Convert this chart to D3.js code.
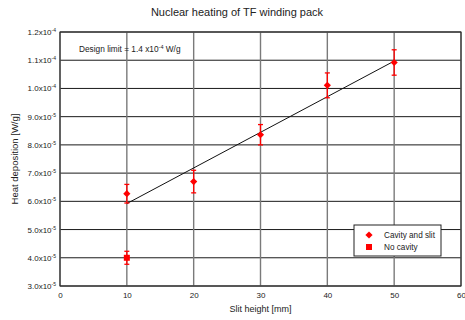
<!DOCTYPE html>
<html>
<head>
<meta charset="utf-8">
<script src="https://cdn.jsdelivr.net/npm/d3@7"></script>
<style>
  body { margin: 0; background: #fff; }
  text { font-family: "Liberation Sans", Arial, sans-serif; }
</style>
</head>
<body>
<svg width="465" height="320"></svg>
<script>
const xTicks = [0, 10, 20, 30, 40, 50, 60];
const yTicks = [3.0e-5, 4.0e-5, 5.0e-5, 6.0e-5, 7.0e-5, 8.0e-5, 9.0e-5, 1.0e-4, 1.1e-4, 1.2e-4];
const yTickMant = ['3.0', '4.0', '5.0', '6.0', '7.0', '8.0', '9.0', '1.0', '1.1', '1.2'];
const yTickExp = ['-5', '-5', '-5', '-5', '-5', '-5', '-5', '-4', '-4', '-4'];

// Cavity and slit
const slitX = [10, 20, 30, 40, 50];
const slitY = [6.27e-5, 6.70e-5, 8.36e-5, 1.011e-4, 1.092e-4];
const slitErr = [0.33e-5, 0.40e-5, 0.36e-5, 0.44e-5, 0.45e-5];

// No cavity
const noCavX = [10];
const noCavY = [4.0e-5];
const noCavErr = [0.23e-5];

// linear fit line
const fitX = [10, 50];
const fitY = [5.92e-5, 1.097e-4];

const margin = { top: 32, right: 4, bottom: 34, left: 60 };
const svgWidth = 465, svgHeight = 320;
const width = svgWidth - margin.left - margin.right;
const height = svgHeight - margin.top - margin.bottom;

const svg = d3.select('svg');
const g = svg.append('g')
    .attr('transform', `translate(${margin.left}, ${margin.top})`);

const x = d3.scaleLinear().domain([0, 60]).range([0, width]);
const y = d3.scaleLinear().domain([3.0e-5, 1.2e-4]).range([height, 0]);

// horizontal grid
g.selectAll('.hgrid')
    .data(yTicks)
    .enter().append('line')
    .attr('x1', 0).attr('x2', width)
    .attr('y1', d => y(d)).attr('y2', d => y(d))
    .attr('stroke', '#1a1a1a')
    .attr('stroke-width', 1);

// vertical grid
g.selectAll('.vgrid')
    .data(xTicks)
    .enter().append('line')
    .attr('x1', d => x(d)).attr('x2', d => x(d))
    .attr('y1', 0).attr('y2', height)
    .attr('stroke', '#7a7a7a')
    .attr('stroke-width', 1.4);

// frame
g.append('rect')
    .attr('width', width).attr('height', height)
    .attr('fill', 'none')
    .attr('stroke', '#222')
    .attr('stroke-width', 1);

// x axis labels
g.append('g')
    .attr('transform', `translate(0, ${height})`)
    .call(d3.axisBottom(x).tickValues(xTicks).tickSize(0).tickPadding(6).tickFormat(d3.format('d')))
    .call(a => a.select('.domain').remove())
    .call(a => a.selectAll('text').attr('font-size', '8px').attr('fill', '#222')
        .style('font-family', '"Liberation Sans", Arial, sans-serif'));

g.append('text')
    .attr('x', width / 2)
    .attr('y', height + 26)
    .attr('text-anchor', 'middle')
    .attr('font-size', '9px')
    .attr('fill', '#222')
    .text('Slit height [mm]');

// y tick labels with superscripts
const yl = g.selectAll('.ylab')
    .data(yTicks)
    .enter().append('text')
    .attr('x', -4)
    .attr('y', d => y(d) + 3)
    .attr('text-anchor', 'end')
    .attr('font-size', '8px')
    .attr('fill', '#222');
yl.append('tspan').text((d, i) => yTickMant[i] + 'x10');
yl.append('tspan').attr('dy', -3).attr('font-size', '5px').text((d, i) => yTickExp[i]);

g.append('text')
    .attr('transform', 'rotate(-90)')
    .attr('x', -height / 2)
    .attr('y', -42)
    .attr('text-anchor', 'middle')
    .attr('font-size', '9.5px')
    .attr('fill', '#222')
    .text('Heat deposition [W/g]');

// title
svg.append('text')
    .attr('x', 237)
    .attr('y', 16)
    .attr('text-anchor', 'middle')
    .attr('font-size', '11px')
    .attr('fill', '#222')
    .text('Nuclear heating of TF winding pack');

// design limit note
const dl = g.append('text')
    .attr('x', 19)
    .attr('y', 20)
    .attr('font-size', '8.3px')
    .attr('fill', '#222');
dl.append('tspan').text('Design limit = 1.4 x10');
dl.append('tspan').attr('dy', -3).attr('font-size', '5.5px').text('-4');
dl.append('tspan').attr('dy', 3).text(' W/g');

// fit line
const line = d3.line().x(d => x(d[0])).y(d => y(d[1]));
g.append('path')
    .datum(fitX.map((d, i) => [d, fitY[i]]))
    .attr('fill', 'none')
    .attr('stroke', '#111')
    .attr('stroke-width', 1)
    .attr('d', line);

// error bars
function errorBars(xs, ys, es) {
    const data = xs.map((d, i) => ({ x: d, y: ys[i], e: es[i] }));
    const eb = g.append('g').attr('stroke', '#ff0000').attr('stroke-width', 1.3);
    eb.selectAll('.v').data(data).enter().append('line')
        .attr('x1', d => x(d.x)).attr('x2', d => x(d.x))
        .attr('y1', d => y(d.y + d.e)).attr('y2', d => y(d.y - d.e));
    eb.selectAll('.t').data(data).enter().append('line')
        .attr('x1', d => x(d.x) - 2.5).attr('x2', d => x(d.x) + 2.5)
        .attr('y1', d => y(d.y + d.e)).attr('y2', d => y(d.y + d.e));
    eb.selectAll('.b').data(data).enter().append('line')
        .attr('x1', d => x(d.x) - 2.5).attr('x2', d => x(d.x) + 2.5)
        .attr('y1', d => y(d.y - d.e)).attr('y2', d => y(d.y - d.e));
    return data;
}

const slitData = errorBars(slitX, slitY, slitErr);
const noCavData = errorBars(noCavX, noCavY, noCavErr);

const diamond = 'M0,-3.6L3.6,0L0,3.6L-3.6,0Z';
g.selectAll('.dia')
    .data(slitData)
    .enter().append('path')
    .attr('d', diamond)
    .attr('transform', d => `translate(${x(d.x)}, ${y(d.y)})`)
    .attr('fill', '#ff0000');

g.selectAll('.sq')
    .data(noCavData)
    .enter().append('rect')
    .attr('x', d => x(d.x) - 3)
    .attr('y', d => y(d.y) - 3)
    .attr('width', 6).attr('height', 6)
    .attr('fill', '#ff0000');

// legend
const leg = svg.append('g').attr('transform', 'translate(354, 225)');
leg.append('rect')
    .attr('width', 87).attr('height', 31)
    .attr('fill', '#fff')
    .attr('stroke', '#222')
    .attr('stroke-width', 1);
leg.append('path')
    .attr('d', diamond)
    .attr('transform', 'translate(15, 10)')
    .attr('fill', '#ff0000');
leg.append('rect')
    .attr('x', 12).attr('y', 19)
    .attr('width', 6).attr('height', 6)
    .attr('fill', '#ff0000');
leg.append('text')
    .attr('x', 30).attr('y', 13)
    .attr('font-size', '8.2px').attr('fill', '#222')
    .text('Cavity and slit');
leg.append('text')
    .attr('x', 30).attr('y', 25)
    .attr('font-size', '8.2px').attr('fill', '#222')
    .text('No cavity');
</script>
</body>
</html>
